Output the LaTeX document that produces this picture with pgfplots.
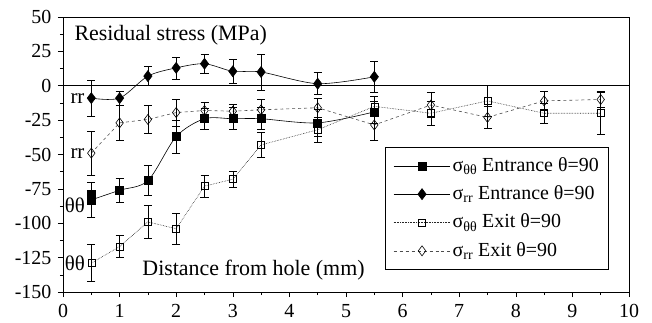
\documentclass[border=0pt]{standalone}
\usepackage{fontspec}
\setmainfont{Liberation Serif}
\usepackage{pgfplots}
\pgfplotsset{compat=1.18}
\pgfplotstableread{
x y e
0.5 -83 13
1 -76 9
1.5 -69 11
2 -37 12
2.5 -24 7.5
3 -24 8
3.5 -24 8
4.5 -27 10
5.5 -19 8
}\entTT
\pgfplotstableread{
x y e
0.5 -9 13
1 -9 5
1.5 7 7
2 13 8
2.5 16 7
3 10.5 8.5
3.5 10 13
4.5 1.5 8
5.5 6.5 11
}\entRR
\pgfplotstableread{
x y e
0.5 -129 13.5
1 -117 8
1.5 -99 12
2 -104 11
2.5 -73 8
3 -68 5.5
3.5 -43 9
4.5 -32 9
5.5 -15 7
6.5 -20 9
7.5 -11 11
8.5 -20 7
9.5 -20 15
}\exTT
\pgfplotstableread{
x y e
0.5 -49 16
1 -27 13
1.5 -24.5 10
2 -19.5 10
2.5 -18 6
3 -18.5 5
3.5 -17.5 8
4.5 -16 7
5.5 -28.5 11
6.5 -14 9
7.5 -23 8
8.5 -11 7
9.5 -10 6
}\exRR
\begin{document}
\fontsize{19.5}{23}\selectfont
\begin{tikzpicture}
\begin{axis}[
  scale only axis, width=566bp, height=275bp,
  xmin=0, xmax=10, ymin=-150, ymax=50,
  xtick={0,1,...,10}, ytick={-150,-125,...,50},
  minor x tick num=1, minor y tick num=1,
  tick pos=left, tick align=outside,
  major tick length=5bp, minor tick length=3bp,
  /pgf/number format/assume math mode=true,
  ticklabel style={font=\fontsize{20}{23}\selectfont},
  xticklabel style={yshift=-1bp},
  axis line style={line width=0.7pt},
  every tick/.style={black, line width=0.6pt},
  legend style={at={(0.569,0.527)}, anchor=north west, draw=black, line width=0.7pt,
    font=\fontsize{20}{23}\selectfont, row sep=7.5bp, inner xsep=8pt, inner ysep=8pt},
  legend cell align=left,
  legend image code/.code={\draw[mark repeat=2,mark phase=2] plot coordinates {(0cm,0cm)(1cm,0cm)(2cm,0cm)};},
  error bars/error bar style={line width=0.6pt, solid, black},
  error bars/error mark options={rotate=90, mark size=4bp, line width=0.6pt, solid, black},
]
\addplot[black, line width=0.7pt, forget plot] coordinates {(0,0) (10,0)};
\addplot[black, line width=0.6pt, smooth, tension=0.5, mark=square*, mark size=4bp, mark options={solid,fill=black},
  error bars/.cd, y dir=both, y explicit] table[x=x, y=y, y error=e] {\entTT};
\addlegendentry{σ\textsubscript{θθ} Entrance θ=90}
\addplot[black, line width=0.6pt, smooth, tension=0.5, mark=diamond*, mark size=5.5bp, mark options={solid,fill=black},
  error bars/.cd, y dir=both, y explicit] table[x=x, y=y, y error=e] {\entRR};
\addlegendentry{σ\textsubscript{rr} Entrance θ=90}
\addplot[black!85, line width=0.6pt, densely dotted, mark=square, mark size=3.5bp, mark options={solid,fill=white,draw=black},
  error bars/.cd, y dir=both, y explicit] table[x=x, y=y, y error=e] {\exTT};
\addlegendentry{σ\textsubscript{θθ} Exit θ=90}
\addplot[black!70, line width=0.6pt, dashed, mark=diamond, mark size=5bp, mark options={solid,fill=white,draw=black},
  error bars/.cd, y dir=both, y explicit] table[x=x, y=y, y error=e] {\exRR};
\addlegendentry{σ\textsubscript{rr} Exit θ=90}
\addplot[only marks, mark=square*, mark size=4bp, black, forget plot] coordinates {(0.5,-79)};
\node[anchor=west, inner sep=0pt] at (axis cs:0.2,37) {\fontsize{22}{26}\selectfont Residual stress (MPa)};
\node[anchor=west, inner sep=0pt] at (axis cs:1.4,-134) {\fontsize{22}{26}\selectfont Distance from hole (mm)};
\node[anchor=east, inner sep=1pt] at (axis cs:0.40,-9) {\fontsize{21}{24}\selectfont rr};
\node[anchor=east, inner sep=1pt] at (axis cs:0.40,-49) {\fontsize{21}{24}\selectfont rr};
\node[anchor=east, inner sep=1pt] at (axis cs:0.41,-87) {\fontsize{21}{24}\selectfont θθ};
\node[anchor=east, inner sep=1pt] at (axis cs:0.41,-129) {\fontsize{21}{24}\selectfont θθ};
\end{axis}
\pgfresetboundingbox
\path ([shift={(-63bp,-31bp)}]current axis.south west) rectangle ([shift={(23bp,17bp)}]current axis.north east);
\end{tikzpicture}
\end{document}
